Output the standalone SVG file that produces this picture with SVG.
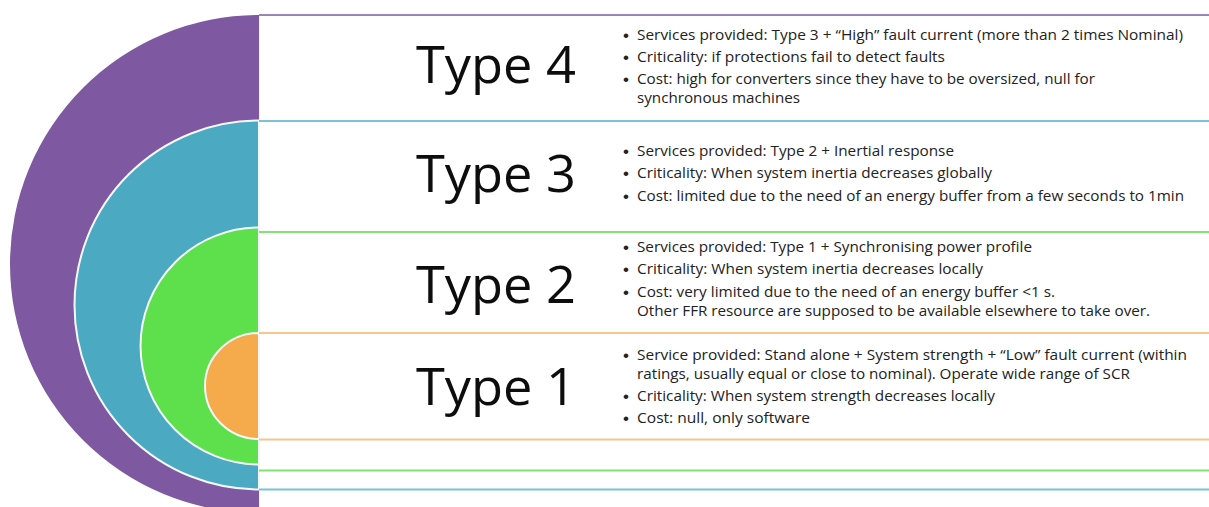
<svg xmlns="http://www.w3.org/2000/svg" width="1209" height="507" viewBox="0 0 1209 507">
<style>
.lbl{font-family:"Open Sans","Liberation Sans",sans-serif;font-size:52px;fill:#0d0d0d}
.txt{font-family:"Open Sans","Liberation Sans",sans-serif;font-size:14.5px;fill:#222222}
.bul{font-family:"Liberation Sans","Open Sans",sans-serif;font-size:17px;fill:#222222}
.arc{stroke:#f4f8fb;stroke-width:2}
.ln{stroke-width:2.2;fill:none}
</style>
<rect width="1209" height="507" fill="#ffffff"/>
<g id="rings">
<path d="M259,15 A249,249 0 0 0 259,513 Z" fill="#7e58a0"/>
<path d="M259,120.5 A184.5,184.5 0 0 0 259,489.5 Z" fill="#4ba9c2" class="arc"/>
<path d="M259,227.5 A118.5,118.5 0 0 0 259,464.5 Z" fill="#5de04b" class="arc"/>
<path d="M259,333 A54,53 0 0 0 259,439 Z" fill="#f5aa4c" class="arc"/>
<line x1="259.5" y1="15" x2="259.5" y2="507" stroke="#eef4f8" stroke-width="1"/>
</g>
<g id="connectors">
<line class="ln" x1="259" y1="15" x2="1209" y2="15" stroke="#9a84b8"/>
<line class="ln" x1="259" y1="121" x2="1209" y2="121" stroke="#7bc2d5"/>
<line class="ln" x1="259" y1="232" x2="1209" y2="232" stroke="#82e274"/>
<line class="ln" x1="259" y1="333" x2="1209" y2="333" stroke="#f8c58e"/>
<line class="ln" x1="259" y1="439.5" x2="1209" y2="439.5" stroke="#f8c58e"/>
<line class="ln" x1="259" y1="470.5" x2="1209" y2="470.5" stroke="#82e274"/>
<line class="ln" x1="259" y1="489.5" x2="1209" y2="489.5" stroke="#7bc2d5"/>
</g>
<g id="type4">
<text class="lbl" x="416" y="83" textLength="160" lengthAdjust="spacingAndGlyphs">Type 4</text>
<text class="bul" x="623" y="41">•</text>
<text class="txt" x="637" y="40" textLength="546" lengthAdjust="spacingAndGlyphs">Services provided: Type 3 + “High” fault current (more than 2 times Nominal)</text>
<text class="bul" x="623" y="63">•</text>
<text class="txt" x="637" y="62" textLength="308" lengthAdjust="spacingAndGlyphs">Criticality: if protections fail to detect faults</text>
<text class="bul" x="623" y="85">•</text>
<text class="txt" x="637" y="84" textLength="458" lengthAdjust="spacingAndGlyphs">Cost: high for converters since they have to be oversized, null for</text>
<text class="txt" x="637" y="103" textLength="163" lengthAdjust="spacingAndGlyphs">synchronous machines</text>
</g>
<g id="type3">
<text class="lbl" x="416" y="192" textLength="160" lengthAdjust="spacingAndGlyphs">Type 3</text>
<text class="bul" x="623" y="157">•</text>
<text class="txt" x="637" y="156" textLength="317" lengthAdjust="spacingAndGlyphs">Services provided: Type 2 + Inertial response</text>
<text class="bul" x="623" y="179">•</text>
<text class="txt" x="637" y="178" textLength="355" lengthAdjust="spacingAndGlyphs">Criticality: When system inertia decreases globally</text>
<text class="bul" x="623" y="202">•</text>
<text class="txt" x="637" y="201" textLength="547" lengthAdjust="spacingAndGlyphs">Cost: limited due to the need of an energy buffer from a few seconds to 1min</text>
</g>
<g id="type2">
<text class="lbl" x="416" y="303" textLength="160" lengthAdjust="spacingAndGlyphs">Type 2</text>
<text class="bul" x="623" y="253">•</text>
<text class="txt" x="637" y="252" textLength="395" lengthAdjust="spacingAndGlyphs">Services provided: Type 1 + Synchronising power profile</text>
<text class="bul" x="623" y="275">•</text>
<text class="txt" x="637" y="274" textLength="346" lengthAdjust="spacingAndGlyphs">Criticality: When system inertia decreases locally</text>
<text class="bul" x="623" y="298">•</text>
<text class="txt" x="637" y="297" textLength="418" lengthAdjust="spacingAndGlyphs">Cost: very limited due to the need of an energy buffer &lt;1 s.</text>
<text class="txt" x="637" y="316" textLength="513" lengthAdjust="spacingAndGlyphs">Other FFR resource are supposed to be available elsewhere to take over.</text>
</g>
<g id="type1">
<text class="lbl" x="416" y="405" textLength="160" lengthAdjust="spacingAndGlyphs">Type 1</text>
<text class="bul" x="623" y="361">•</text>
<text class="txt" x="637" y="360" textLength="550" lengthAdjust="spacingAndGlyphs">Service provided: Stand alone + System strength + “Low” fault current (within</text>
<text class="txt" x="637" y="379" textLength="493" lengthAdjust="spacingAndGlyphs">ratings, usually equal or close to nominal). Operate wide range of SCR</text>
<text class="bul" x="623" y="402">•</text>
<text class="txt" x="637" y="401" textLength="358" lengthAdjust="spacingAndGlyphs">Criticality: When system strength decreases locally</text>
<text class="bul" x="623" y="424">•</text>
<text class="txt" x="637" y="423" textLength="173" lengthAdjust="spacingAndGlyphs">Cost: null, only software</text>
</g>
</svg>
